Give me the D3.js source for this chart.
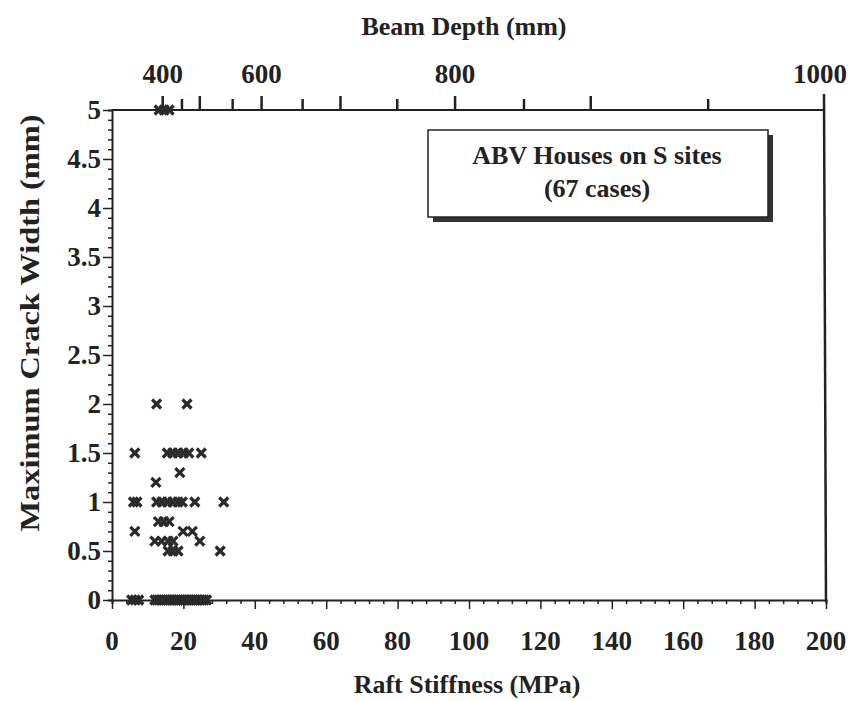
<!DOCTYPE html>
<html lang="en">
<head>
<meta charset="utf-8">
<script src="https://cdn.jsdelivr.net/npm/d3@7"></script>
<style type="text/css">
body {
	margin: 0;
	background: #fff;
}
text {
	font-family: "Liberation Serif", "Times New Roman", serif;
	font-weight: bold;
	fill: #222;
}
</style>
</head>
<body>
<script type="text/javascript">

// crack width cases, grouped by measured crack width (mm) -> raft stiffness (MPa)
var crack2_0 = [12.5, 21];
var crack1_5 = [6.4, 15.5, 17, 18.5, 20, 21.5, 25];
var crack1_3 = [19];
var crack1_2 = [12.3];
var crack1_0 = [6, 7, 12.5, 14, 15.5, 17, 18.5, 19.7, 23.2, 31.3];
var crack0_8 = [13, 14.5, 16];
var crack0_7 = [6.4, 19.9, 22.5];
var crack0_6 = [12, 13.9, 15.7, 17.1, 24.6];
var crack0_5 = [15.7, 17.1, 18.5, 30.3];
var crack0_0 = [5.5, 6.5, 7.5, 12, 12.6, 13.2, 13.8, 14.4, 15, 15.6, 16.2, 16.8, 17.4,
                18, 18.6, 19.2, 19.8, 20.4, 21, 21.6, 22.2, 22.8, 23.4, 24, 24.6, 25.2, 25.8, 26.5];
var crackTop = [13.2, 14.6, 16];   // off scale, drawn on the top edge

var crackGroups = [
	[2.0, crack2_0], [1.5, crack1_5], [1.3, crack1_3], [1.2, crack1_2], [1.0, crack1_0],
	[0.8, crack0_8], [0.7, crack0_7], [0.6, crack0_6], [0.5, crack0_5], [0, crack0_0], [5, crackTop]
];

// top axis: beam depth and the raft stiffness it lines up with
var depthTicks = [400, 450, 500, 550, 600, 650, 700, 750, 800, 850, 900, 950, 1000];
var depthStiff = [14.2, 19.6, 24.6, 33.8, 41.9, 53.4, 64.0, 79.9, 96.1, 115.4, 134.1, 167, 198.3];
var depthLabels = [400, 600, 800, 1000];

var xTicks = [0, 20, 40, 60, 80, 100, 120, 140, 160, 180, 200];
var yTicks = [0, 0.5, 1, 1.5, 2, 2.5, 3, 3.5, 4, 4.5, 5];

var width = 851;
var height = 701;
var mLeft = 112, mRight = 824, mTop = 110, mBottom = 600;

var svg = d3.select("body")
			.append("svg")
			.attr("width", width)
			.attr("height", height);

var x = d3.scaleLinear().domain([0, 200]).range([mLeft, mRight + 2]);
var y = d3.scaleLinear().domain([0, 5]).range([mBottom, mTop]);
var depth = d3.scaleLinear().domain(depthTicks).range(depthStiff.map(function(s){ return x(s); }));

var ink = "#222";

// bottom axis
var xAxis = svg.append("g")
	.attr("transform", "translate(0," + mBottom + ")")
	.call(d3.axisBottom(x).tickValues(d3.range(0, 201, 4)).tickSize(4).tickFormat(""));
xAxis.selectAll("line").attr("stroke", ink).attr("stroke-width", 1.5)
	.attr("y2", function(d){ return d % 20 === 0 ? 9 : 4; });
xAxis.select(".domain").attr("stroke", ink).attr("stroke-width", 2);

svg.append("g").selectAll("text")
	.data(xTicks)
	.enter()
	.append("text")
	.attr("x", function(d){ return x(d); })
	.attr("y", 650)
	.attr("text-anchor", "middle")
	.style("font-size", "27px")
	.text(function(d){ return d; });

// left axis
var yAxis = svg.append("g")
	.attr("transform", "translate(" + mLeft + ",0)")
	.call(d3.axisLeft(y).tickValues(d3.range(0, 51).map(function(i){ return i / 10; })).tickSize(4).tickFormat(""));
yAxis.selectAll("line").attr("stroke", ink).attr("stroke-width", 1.5)
	.attr("x2", function(d){ return Math.round(d * 10) % 5 === 0 ? -9 : -4; });
yAxis.select(".domain").attr("stroke", ink).attr("stroke-width", 2);

svg.append("g").selectAll("text")
	.data(yTicks)
	.enter()
	.append("text")
	.attr("x", 101)
	.attr("y", function(d){ return y(d) + 9; })
	.attr("text-anchor", "end")
	.style("font-size", "27px")
	.text(function(d){ return d; });

// top axis (beam depth) and right border
svg.append("line")
	.attr("x1", mLeft).attr("x2", mRight)
	.attr("y1", mTop).attr("y2", mTop)
	.attr("stroke", ink).attr("stroke-width", 2);
svg.append("line")
	.attr("x1", mRight).attr("x2", mRight + 2)
	.attr("y1", mTop - 16).attr("y2", mBottom + 2)
	.attr("stroke", ink).attr("stroke-width", 2.5);

svg.append("g").selectAll("line")
	.data(depthTicks.slice(0, -1))
	.enter()
	.append("line")
	.attr("x1", function(d){ return depth(d); })
	.attr("x2", function(d){ return depth(d); })
	.attr("y1", mTop)
	.attr("y2", function(d){ return d % 100 === 0 ? mTop - 14 : mTop - 11; })
	.attr("stroke", ink)
	.attr("stroke-width", 2.5);

svg.append("g").selectAll("text")
	.data(depthLabels)
	.enter()
	.append("text")
	.attr("x", function(d){ return depth(d); })
	.attr("y", 83)
	.attr("text-anchor", "middle")
	.style("font-size", "27px")
	.text(function(d){ return d; });

// axis titles
svg.append("text")
	.attr("x", 464).attr("y", 35)
	.attr("text-anchor", "middle")
	.style("font-size", "26px")
	.text("Beam Depth (mm)");

svg.append("text")
	.attr("x", 467).attr("y", 693)
	.attr("text-anchor", "middle")
	.style("font-size", "26px")
	.text("Raft Stiffness (MPa)");

svg.append("text")
	.attr("transform", "translate(39,323) rotate(-90) scale(1.2,1)")
	.attr("text-anchor", "middle")
	.style("font-size", "27px")
	.text("Maximum Crack Width (mm)");

// legend box with shadow
svg.append("rect")
	.attr("x", 433).attr("y", 135).attr("width", 340).attr("height", 87)
	.attr("fill", "#333");
svg.append("rect")
	.attr("x", 428).attr("y", 130).attr("width", 340).attr("height", 87)
	.attr("fill", "#fff").attr("stroke", ink).attr("stroke-width", 1.5);
svg.append("text")
	.attr("x", 597).attr("y", 164)
	.attr("text-anchor", "middle")
	.style("font-size", "26px")
	.text("ABV Houses on S sites");
svg.append("text")
	.attr("x", 597).attr("y", 197)
	.attr("text-anchor", "middle")
	.style("font-size", "26px")
	.text("(67 cases)");

// data points as bold crosses
var points = [];
crackGroups.forEach(function(g){
	g[1].forEach(function(s){ points.push({stiff: s, crack: g[0]}); });
});

var r = 4.5;
svg.append("g").selectAll("path")
	.data(points)
	.enter()
	.append("path")
	.attr("d", function(d){
		var cx = x(d.stiff), cy = y(d.crack);
		return "M" + (cx - r) + "," + (cy - r) + "L" + (cx + r) + "," + (cy + r) +
			"M" + (cx - r) + "," + (cy + r) + "L" + (cx + r) + "," + (cy - r);
	})
	.attr("stroke", "#2a2a2a")
	.attr("stroke-width", 3.2);

</script>
</body>
</html>
